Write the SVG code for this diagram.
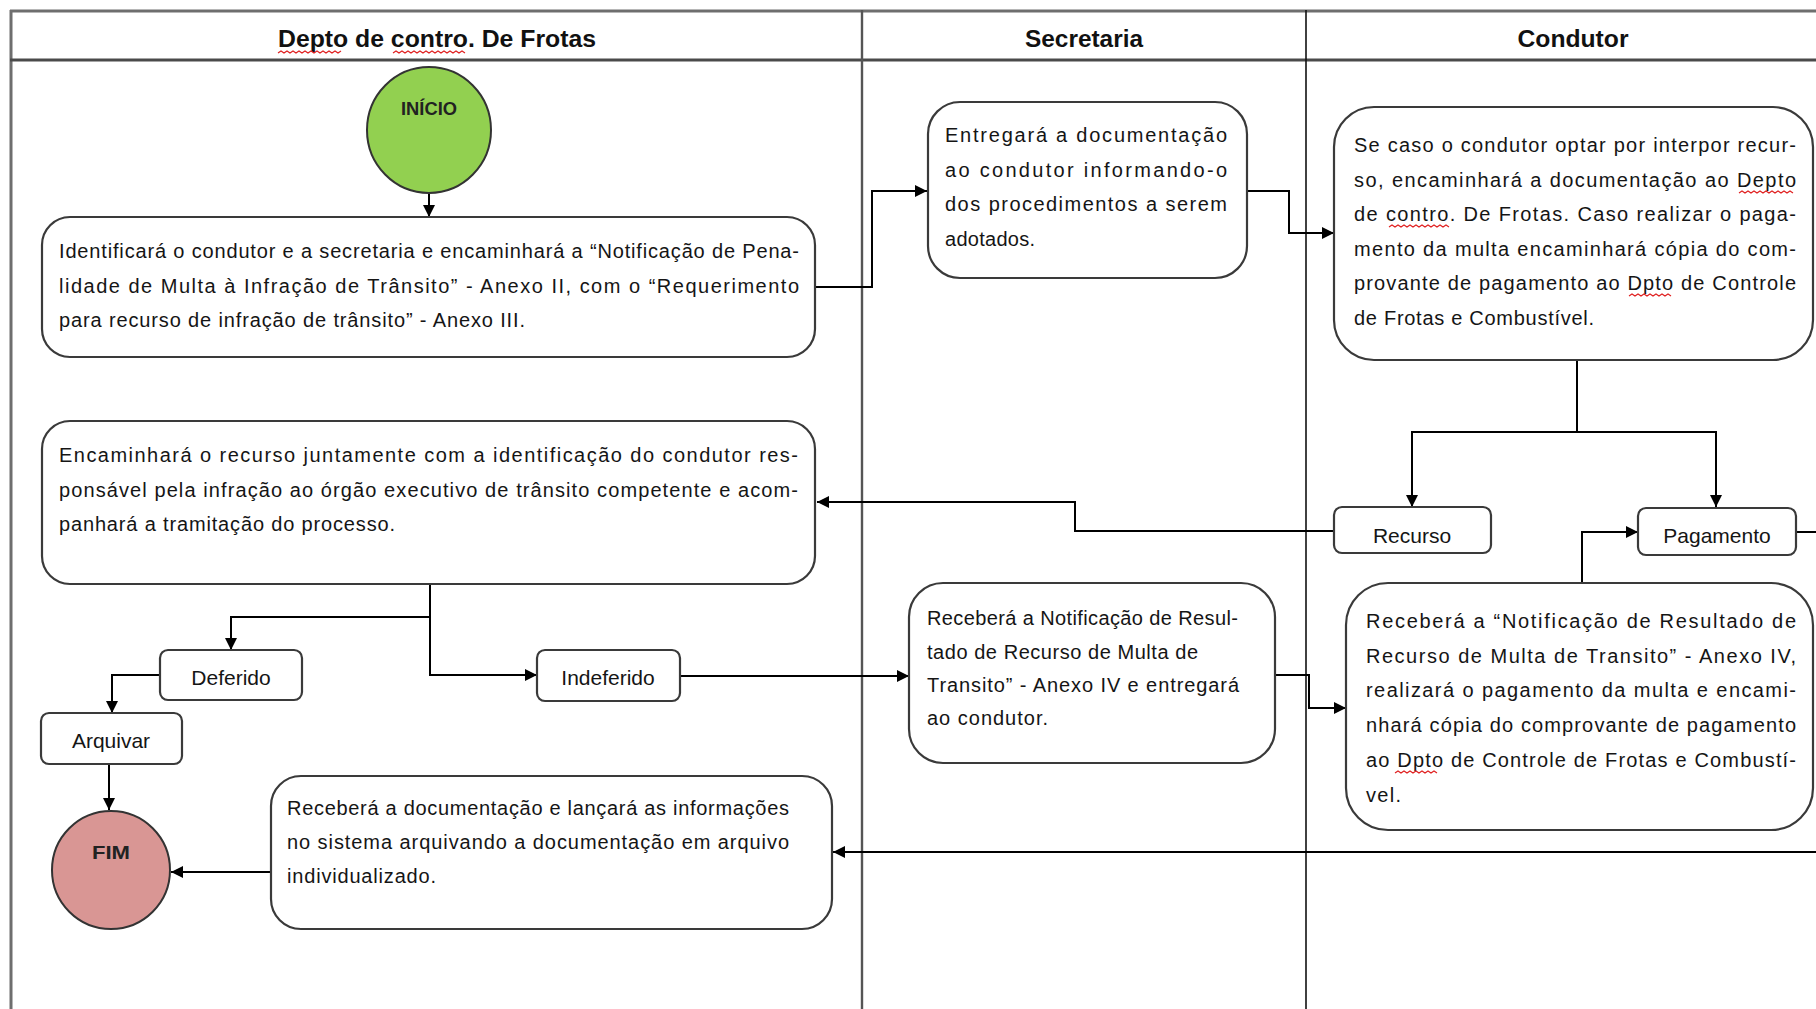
<svg xmlns="http://www.w3.org/2000/svg" width="1816" height="1009" viewBox="0 0 1816 1009">
<defs>
<marker id="arr" markerUnits="userSpaceOnUse" markerWidth="14" markerHeight="12" refX="12" refY="6" orient="auto">
<path d="M0,0 L12,6 L0,12 Z" fill="#000"/>
</marker>
<style>
.bg{fill:#fff}
.lane{fill:none;stroke:#6e6e6e;stroke-width:3}
.lane2{fill:none;stroke:#111;stroke-width:1.6}
.box{fill:#fff;stroke:#3a3a3a;stroke-width:2.2}
.conn{fill:none;stroke:#000;stroke-width:2}
.t{font-family:"Liberation Sans",Arial,sans-serif;font-size:20px;fill:#151515}
.c{text-anchor:middle;font-size:21px}
.hdr{font-family:"Liberation Sans",Arial,sans-serif;font-size:23px;font-weight:bold;fill:#111;text-anchor:middle}
.term{font-family:"Liberation Sans",Arial,sans-serif;font-weight:bold;fill:#222;text-anchor:middle}
.sq{fill:none;stroke:#e02020;stroke-width:1.2}
</style>
</defs>
<rect class="bg" x="0" y="0" width="1816" height="1009"/>

<g id="lanes">
<line class="lane" x1="10" y1="11" x2="1816" y2="11"/>
<line class="lane" x1="11" y1="10" x2="11" y2="1009"/>
<line class="lane" x1="10" y1="60" x2="1816" y2="60" style="stroke:#4a4a4a"/>
<line class="lane" x1="862" y1="10" x2="862" y2="1009" style="stroke-width:2.4;stroke:#555"/>
<line class="lane2" x1="1306" y1="10" x2="1306" y2="1009"/>
<text class="hdr" x="437" y="47" textLength="318" lengthAdjust="spacingAndGlyphs">Depto de contro. De Frotas</text>
<text class="hdr" x="1084" y="47" textLength="118" lengthAdjust="spacingAndGlyphs">Secretaria</text>
<text class="hdr" x="1573" y="47" textLength="111" lengthAdjust="spacingAndGlyphs">Condutor</text>
</g>

<g id="connectors">
<path class="conn" d="M429 193 V217" marker-end="url(#arr)"/>
<path class="conn" d="M815 287 H872 V191 H927" marker-end="url(#arr)"/>
<path class="conn" d="M1247 191 H1289 V233 H1334" marker-end="url(#arr)"/>
<path class="conn" d="M1577 360 V432"/>
<path class="conn" d="M1577 432 H1412 V507" marker-end="url(#arr)"/>
<path class="conn" d="M1577 432 H1716 V507" marker-end="url(#arr)"/>
<path class="conn" d="M1334 531 H1075 V502 H817" marker-end="url(#arr)"/>
<path class="conn" d="M430 584 V675 H537" marker-end="url(#arr)"/>
<path class="conn" d="M430 617 H231 V650" marker-end="url(#arr)"/>
<path class="conn" d="M680 676 H909" marker-end="url(#arr)"/>
<path class="conn" d="M160 675 H112 V713" marker-end="url(#arr)"/>
<path class="conn" d="M109 764 V810" marker-end="url(#arr)"/>
<path class="conn" d="M270 872 H171" marker-end="url(#arr)"/>
<path class="conn" d="M1816 852 H833" marker-end="url(#arr)"/>
<path class="conn" d="M1275 675 H1309 V708 H1346" marker-end="url(#arr)"/>
<path class="conn" d="M1582 583 V532 H1638" marker-end="url(#arr)"/>
<path class="conn" d="M1796 532 H1816"/>
</g>

<g id="inicio">
<ellipse cx="429" cy="130" rx="62" ry="63" fill="#92D050" stroke="#333" stroke-width="2"/>
<text class="term" x="429" y="115" font-size="18" textLength="56" lengthAdjust="spacingAndGlyphs">INÍCIO</text>
</g>

<g id="fim">
<ellipse cx="111" cy="870" rx="59" ry="59" fill="#D99694" stroke="#333" stroke-width="2"/>
<text class="term" x="111" y="859" font-size="19" textLength="38" lengthAdjust="spacingAndGlyphs">FIM</text>
</g>

<g id="box1">
<rect class="box" x="42" y="217" width="773" height="140" rx="28"/>
<text class="t" x="59" y="258" textLength="740" lengthAdjust="spacing">Identificará o condutor e a secretaria e encaminhará a “Notificação de Pena-</text>
<text class="t" x="59" y="293" textLength="740" lengthAdjust="spacing">lidade de Multa à Infração de Trânsito” - Anexo II, com o “Requerimento</text>
<text class="t" x="59" y="327" textLength="466" lengthAdjust="spacing">para recurso de infração de trânsito” - Anexo III.</text>
</g>

<g id="box2">
<rect class="box" x="928" y="102" width="319" height="176" rx="32"/>
<text class="t" x="945" y="142" textLength="282" lengthAdjust="spacing">Entregará a documentação</text>
<text class="t" x="945" y="177" textLength="282" lengthAdjust="spacing">ao condutor informando-o</text>
<text class="t" x="945" y="211" textLength="282" lengthAdjust="spacing">dos procedimentos a serem</text>
<text class="t" x="945" y="246" textLength="90" lengthAdjust="spacing">adotados.</text>
</g>

<g id="box3">
<rect class="box" x="1334" y="107" width="479" height="253" rx="40"/>
<text class="t" x="1354" y="152" textLength="442" lengthAdjust="spacing">Se caso o condutor optar por interpor recur-</text>
<text class="t" x="1354" y="187" textLength="442" lengthAdjust="spacing">so, encaminhará a documentação ao Depto</text>
<text class="t" x="1354" y="221" textLength="442" lengthAdjust="spacing">de contro. De Frotas. Caso realizar o paga-</text>
<text class="t" x="1354" y="256" textLength="442" lengthAdjust="spacing">mento da multa encaminhará cópia do com-</text>
<text class="t" x="1354" y="290" textLength="442" lengthAdjust="spacing">provante de pagamento ao Dpto de Controle</text>
<text class="t" x="1354" y="325" textLength="240" lengthAdjust="spacing">de Frotas e Combustível.</text>
</g>

<g id="recurso">
<rect class="box" x="1334" y="507" width="157" height="46" rx="8"/>
<text class="t c" x="1412" y="543">Recurso</text>
</g>

<g id="pagamento">
<rect class="box" x="1638" y="508" width="158" height="47" rx="8"/>
<text class="t c" x="1717" y="543">Pagamento</text>
</g>

<g id="box4">
<rect class="box" x="42" y="421" width="773" height="163" rx="28"/>
<text class="t" x="59" y="462" textLength="739" lengthAdjust="spacing">Encaminhará o recurso juntamente com a identificação do condutor res-</text>
<text class="t" x="59" y="497" textLength="739" lengthAdjust="spacing">ponsável pela infração ao órgão executivo de trânsito competente e acom-</text>
<text class="t" x="59" y="531" textLength="336" lengthAdjust="spacing">panhará a tramitação do processo.</text>
</g>

<g id="deferido">
<rect class="box" x="160" y="650" width="142" height="50" rx="8"/>
<text class="t c" x="231" y="685">Deferido</text>
</g>

<g id="indeferido">
<rect class="box" x="537" y="650" width="143" height="51" rx="8"/>
<text class="t c" x="608" y="685">Indeferido</text>
</g>

<g id="arquivar">
<rect class="box" x="41" y="713" width="141" height="51" rx="8"/>
<text class="t c" x="111" y="748">Arquivar</text>
</g>

<g id="box5">
<rect class="box" x="909" y="583" width="366" height="180" rx="34"/>
<text class="t" x="927" y="625" textLength="311" lengthAdjust="spacing">Receberá a Notificação de Resul-</text>
<text class="t" x="927" y="659" textLength="271" lengthAdjust="spacing">tado de Recurso de Multa de</text>
<text class="t" x="927" y="692" textLength="312" lengthAdjust="spacing">Transito” - Anexo IV e entregará</text>
<text class="t" x="927" y="725" textLength="121" lengthAdjust="spacing">ao condutor.</text>
</g>

<g id="box6">
<rect class="box" x="271" y="776" width="561" height="153" rx="30"/>
<text class="t" x="287" y="815" textLength="502" lengthAdjust="spacing">Receberá a documentação e lançará as informações</text>
<text class="t" x="287" y="849" textLength="502" lengthAdjust="spacing">no sistema arquivando a documentação em arquivo</text>
<text class="t" x="287" y="883" textLength="149" lengthAdjust="spacing">individualizado.</text>
</g>

<g id="box7">
<rect class="box" x="1346" y="583" width="467" height="247" rx="42"/>
<text class="t" x="1366" y="628" textLength="430" lengthAdjust="spacing">Receberá a “Notificação de Resultado de</text>
<text class="t" x="1366" y="663" textLength="430" lengthAdjust="spacing">Recurso de Multa de Transito” - Anexo IV,</text>
<text class="t" x="1366" y="697" textLength="430" lengthAdjust="spacing">realizará o pagamento da multa e encami-</text>
<text class="t" x="1366" y="732" textLength="430" lengthAdjust="spacing">nhará cópia do comprovante de pagamento</text>
<text class="t" x="1366" y="767" textLength="430" lengthAdjust="spacing">ao Dpto de Controle de Frotas e Combustí-</text>
<text class="t" x="1366" y="802" textLength="35" lengthAdjust="spacing">vel.</text>
</g>

<g id="spellmarks">
<path class="sq" d="M278 53 l3 -2 l3 2 l3 -2 l3 2 l3 -2 l3 2 l3 -2 l3 2 l3 -2 l3 2 l3 -2 l3 2 l3 -2 l3 2 l3 -2 l3 2 l3 -2 l3 2 l3 -2 l3 2 l3 -2"/>
<path class="sq" d="M393 53 l3 -2 l3 2 l3 -2 l3 2 l3 -2 l3 2 l3 -2 l3 2 l3 -2 l3 2 l3 -2 l3 2 l3 -2 l3 2 l3 -2 l3 2 l3 -2 l3 2 l3 -2 l3 2 l3 -2 l3 2 l3 -2 l3 2"/>
<path class="sq" d="M1739 193 l3 -2 l3 2 l3 -2 l3 2 l3 -2 l3 2 l3 -2 l3 2 l3 -2 l3 2 l3 -2 l3 2 l3 -2 l3 2 l3 -2 l3 2 l3 -2 l3 2"/>
<path class="sq" d="M1389 227 l3 -2 l3 2 l3 -2 l3 2 l3 -2 l3 2 l3 -2 l3 2 l3 -2 l3 2 l3 -2 l3 2 l3 -2 l3 2 l3 -2 l3 2 l3 -2 l3 2 l3 -2 l3 2"/>
<path class="sq" d="M1629 296 l3 -2 l3 2 l3 -2 l3 2 l3 -2 l3 2 l3 -2 l3 2 l3 -2 l3 2 l3 -2 l3 2 l3 -2 l3 2"/>
<path class="sq" d="M1395 773 l3 -2 l3 2 l3 -2 l3 2 l3 -2 l3 2 l3 -2 l3 2 l3 -2 l3 2 l3 -2 l3 2 l3 -2 l3 2"/>
</g>
</svg>
